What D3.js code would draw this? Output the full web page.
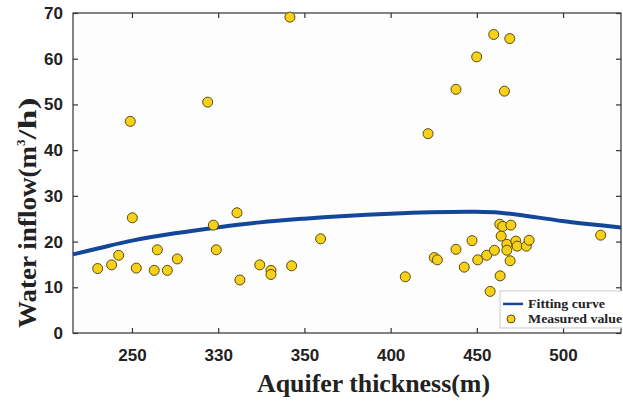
<!DOCTYPE html>
<html>
<head>
<meta charset="utf-8">
<script src="https://cdn.jsdelivr.net/npm/d3@7"></script>
<style>
  body { margin: 0; background: #fff; }
</style>
</head>
<body>
<svg id="chart" width="623" height="404"></svg>
<script>
// tick positions (axis units) and the labels printed under them
const xTicks = [250, 300, 350, 400, 450, 500]
const xTickLabels = ["250", "330", "350", "400", "450", "500"]
const yTicks = [0, 10, 20, 30, 40, 50, 60, 70]

// measured values
const thickness = [230.1, 238.2, 242.3, 249.0, 250.2, 252.5, 262.9, 264.7, 270.5, 276.3,
  293.9, 297.2, 298.9, 310.9, 312.6, 324.1, 330.6, 330.6, 341.6, 342.6, 359.4,
  421.7, 408.5, 425.3, 427.1, 437.9, 437.9, 442.7, 447.2, 449.9, 450.5, 455.7,
  457.7, 459.8, 460.2, 463.3, 465.0, 463.5, 464.1, 466.0, 467.4, 467.4, 469.1,
  469.3, 469.7, 472.6, 473.4, 478.7, 480.3, 521.8]
const inflow = [14.1, 14.9, 17.0, 46.3, 25.2, 14.2, 13.7, 18.2, 13.7, 16.2,
  50.5, 23.6, 18.2, 26.3, 11.6, 14.9, 13.7, 12.8, 69.1, 14.7, 20.6,
  43.6, 12.3, 16.5, 16.0, 53.3, 18.3, 14.4, 20.2, 60.4, 16.0, 17.0,
  9.1, 65.3, 18.1, 23.8, 23.3, 12.5, 21.2, 52.9, 19.4, 18.1, 64.4,
  15.8, 23.6, 20.1, 19.0, 19.0, 20.3, 21.4]

// fitting curve
const fitX = [215.8, 231.4, 250, 274.9, 299.3, 324.2, 349.8, 373.5, 399.7, 422.9, 449.5, 463.5, 479.1, 499.4, 515.7, 533.6]
const fitY = [17.2, 18.6, 20.2, 21.8, 23.1, 24.2, 25.0, 25.6, 26.1, 26.4, 26.5, 26.3, 25.6, 24.5, 23.8, 23.1]

const points = thickness.map((t, i) => ({ x: t, y: inflow[i] }))
const curve = fitX.map((t, i) => ({ x: t, y: fitY[i] }))

const margin = { top: 13, right: 2, bottom: 71, left: 73 }
const width = 623, height = 404
const chartWidth = width - margin.left - margin.right
const chartHeight = height - margin.top - margin.bottom

const x = d3.scaleLinear().domain([215.8, 533.6]).range([0, chartWidth])
const y = d3.scaleLinear().domain([0, 70]).range([chartHeight, 0])

const svg = d3.select("#chart").append("g")
  .attr("transform", `translate(${margin.left},${margin.top})`)

const tickFont = "'Liberation Sans Narrow', 'Arial Narrow', 'Liberation Sans', sans-serif"
const serif = "'Liberation Serif', 'Times New Roman', serif"
const axisColor = "#333"

// frame
svg.append("rect")
  .attr("width", chartWidth).attr("height", chartHeight)
  .attr("fill", "#fdfdfd").attr("stroke", axisColor).attr("stroke-width", 1.2)

const styleAxis = (g) => {
  g.select(".domain").remove()
  g.selectAll("line").attr("stroke", axisColor).attr("stroke-width", 1.2)
  g.selectAll("text")
    .attr("font-family", tickFont)
    .attr("font-weight", "bold")
    .attr("font-size", 17)
    .attr("fill", "#222")
}

// bottom axis (inward ticks)
svg.append("g")
  .attr("transform", `translate(0,${chartHeight})`)
  .call(d3.axisBottom(x).tickValues(xTicks).tickSize(-5).tickPadding(16)
    .tickFormat((d, i) => xTickLabels[i]))
  .call(styleAxis)

// top axis ticks
svg.append("g")
  .call(d3.axisTop(x).tickValues(xTicks).tickSize(-5).tickFormat(""))
  .call(styleAxis)

// left axis
svg.append("g")
  .call(d3.axisLeft(y).tickValues(yTicks).tickSize(-5).tickPadding(10))
  .call(styleAxis)

// right axis ticks
svg.append("g")
  .attr("transform", `translate(${chartWidth},0)`)
  .call(d3.axisRight(y).tickValues(yTicks).tickSize(-5).tickFormat(""))
  .call(styleAxis)

// fitting curve
svg.append("path")
  .datum(curve)
  .attr("fill", "none")
  .attr("stroke", "#12479a")
  .attr("stroke-width", 4)
  .attr("d", d3.line().x(d => x(d.x)).y(d => y(d.y)).curve(d3.curveCatmullRom))

// measured points
svg.append("g").selectAll("circle")
  .data(points)
  .join("circle")
  .attr("cx", d => x(d.x))
  .attr("cy", d => y(d.y))
  .attr("r", 5)
  .attr("fill", "#f7d117")
  .attr("stroke", "#5a4a14")
  .attr("stroke-width", 1)

// axis titles
d3.select("#chart").append("text")
  .attr("x", 257).attr("y", 392)
  .attr("font-family", serif).attr("font-weight", "bold")
  .attr("font-size", 26).attr("fill", "#222")
  .attr("textLength", 233).attr("lengthAdjust", "spacingAndGlyphs")
  .text("Aquifer thickness(m)")

const yTitle = d3.select("#chart").append("text")
  .attr("transform", "translate(36,328) rotate(-90)")
  .attr("font-family", serif).attr("font-weight", "bold")
  .attr("font-size", 26).attr("fill", "#222")
yTitle.append("tspan").attr("textLength", 182).attr("lengthAdjust", "spacingAndGlyphs")
  .text("Water inflow(m")
yTitle.append("tspan").attr("font-size", 13).attr("dy", -11).text("3")
yTitle.append("tspan").attr("dy", 11).attr("textLength", 42).attr("lengthAdjust", "spacingAndGlyphs")
  .text("/h)")

// legend
const legend = svg.append("g")
  .attr("transform", `translate(${x(500) - 63},${y(9.2)})`)
legend.append("rect")
  .attr("width", 125).attr("height", 37)
  .attr("fill", "#fff").attr("stroke", "#ccc").attr("stroke-width", 1)
legend.append("line")
  .attr("x1", 3).attr("x2", 23).attr("y1", 13).attr("y2", 13)
  .attr("stroke", "#12479a").attr("stroke-width", 2.5)
legend.append("circle")
  .attr("cx", 11).attr("cy", 28).attr("r", 4)
  .attr("fill", "#f7d117").attr("stroke", "#5a4a14")
const legendText = ["Fitting curve", "Measured value"]
const legendLen = [77, 94]
legend.selectAll("text.lg")
  .data(legendText)
  .join("text")
  .attr("class", "lg")
  .attr("x", 28)
  .attr("y", (d, i) => 13 + i * 15)
  .attr("dy", "0.35em")
  .attr("font-family", serif).attr("font-weight", "bold")
  .attr("font-size", 12).attr("fill", "#222")
  .attr("textLength", (d, i) => legendLen[i]).attr("lengthAdjust", "spacingAndGlyphs")
  .text(d => d)
</script>
</body>
</html>
